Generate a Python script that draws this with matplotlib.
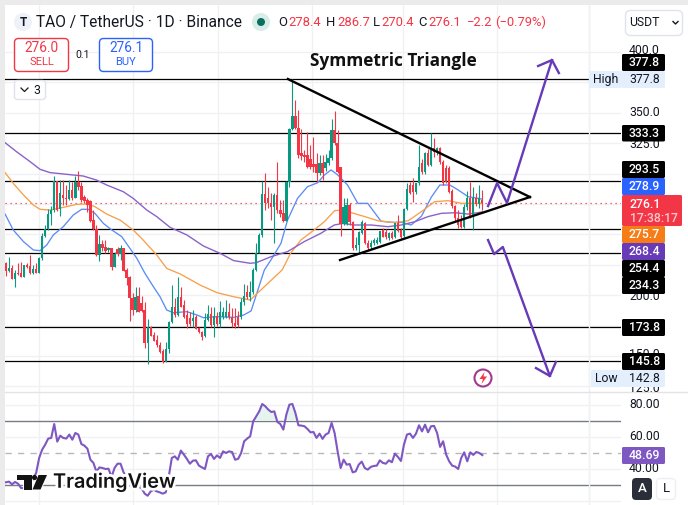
import numpy as np
import matplotlib.pyplot as plt
import matplotlib.patheffects as pe
from matplotlib.patches import FancyBboxPatch, Rectangle, Circle, Polygon

W, H = 688, 505
plt.rcParams['font.family'] = ['Roboto', 'DejaVu Sans']

opens = [226.7,220.1,222.3,213.5,218.2,217.9,215.2,224.5,224,217.9,221.2,218.5,230.3,248.6,254.1,266.7,270,293.9,270.6,282.4,
         280.2,279,286.5,280.2,293.3,289.8,281,278.2,277.7,261.8,254.1,233,242.1,239.3,237.1,238.5,223.4,237.7,233.8,238.5,
         220.7,214.6,197.4,187.8,199.5,193.3,187.8,160.3,173.5,167.2,163.1,159,154.3,145.3,155.4,178.2,190.5,183.7,198.7,191.9,
         183.7,180.9,179,181.7,172.7,169.9,166.7,179.5,184.5,175.4,182.8,176.2,182.3,182.3,186.4,182.3,177,181.7,181.7,194,
         202.8,198.7,202.8,220.7,234.9,249.5,283.2,279.6,275.5,272.2,282.4,270,267.3,261.2,292.8,336.4,347.4,337.2,316.6,315.3,
         315.3,311.7,307.9,307.9,300.2,308.4,304.3,308.4,312.5,335.8,324.9,305.1,258.5,258.5,274.2,260.4,238.5,241.2,250.8,259,
         243.2,239.9,242.6,243.2,244,253.6,252.2,246.7,250.8,248.1,259,253.6,248.9,270.6,290.6,290.6,284.6,292,309,301.6,
         316.6,307,320.8,319.4,320.8,309.8,304.3,304.3,285.7,273.3,263.2,261.8,256.3,272.2,279.6,264.6,279.6,274.7,278.4]
highs = [227.5,231.6,224.8,220.7,226.7,227.5,224.8,226.2,233,224.8,226.2,231,250.8,257.7,270.6,273.3,298,294,294.7,294.7,
         290.6,294.7,293.3,298,302.1,293.3,282.4,279.6,278.2,270,257.7,249.5,245.3,245.3,239.3,239,235.8,239.8,241.2,239,
         222,216,201.5,207,207,199.5,194.6,180.4,174.5,169.9,167.2,161.7,156,161.7,178.5,208.3,197.4,215.2,207,196,
         187.8,186.4,187.8,184,174,170.5,185,191.9,190.5,190.5,186,195.2,190.5,196,193.3,189,189,187,197.4,209,
         208,212,222,242.6,250.8,293.9,300.2,289.2,283.7,283.7,309.8,278.3,278.3,294.2,337.2,377.5,360.5,352.3,336.4,319.4,
         334.5,323.5,330.4,316.6,315.3,315.3,316,319.4,344.6,351.5,335.8,305.7,279.6,280,276,261,248.1,253,262,260.4,
         245,245,247,248,253,255,254,252,253,259,265.9,255,271.4,292.5,293,296.1,292.5,323.5,312,318,
         320,333.1,329,322,322.1,311,307,306,287,274,270,266,275,286,293.3,288.7,284,291,286.7]
lows = [215.7,219.3,213,206.4,216.5,215.2,215,222,217.4,217.4,217.9,217.9,228.9,248.1,253.6,257.7,268.7,269.5,265.1,274.1,
        274.1,278.2,278.2,279.6,286.5,276.9,275.5,268.7,260.4,253.6,232.2,228.4,236.6,235,235.8,220.7,222.9,232,228.9,220.1,
        208.3,179,183.7,186.5,186,186.4,156.2,143.1,166,162,157.6,152.5,143.9,145,152.1,177,182,183,190,180.9,
        173.2,175,174,172.1,168.5,163.1,165.3,179,174,165.8,175,174,180,181,180,174,172.7,174,180,192,
        197,195,201,220,234.4,248.1,270,271.4,261.8,243.2,267.3,264.6,260.4,261,289.2,335.8,336.4,312.5,311.2,309.8,
        304.3,304,301.6,293.3,298.8,294.7,302,307,311.2,323.5,300.2,248.9,257.7,258,258,237,237.1,234.4,250,242,
        237.1,238,241,242,243,247.5,246,245,246,247,252,247,248,270,283,276.9,283,291,300,300,
        306,306,313.9,315,308,291,292,284,272,261,255,255,255,270,263.2,253.6,273,272,270.4]
closes = [220.1,222.3,213.5,217.9,217.7,215.2,224.5,222.9,217.9,221.2,218.5,230.3,248.6,254.1,266.7,270,293.9,270,283.7,279.6,
          279,286.5,279.6,293.3,289.2,278.2,277.7,274.1,261.3,254.1,233,241.8,238.5,236.6,238.5,223.4,233.8,233.8,238.5,220.1,
          213.8,197.4,187.8,198.7,186.4,187.2,160.3,174,166.4,162.5,159,152.9,145.3,155.4,178.2,190.5,183.7,198.7,190.5,182.3,
          176.2,176.2,180.9,172.1,169.9,165.3,179.5,184.5,175.4,182.8,176.2,186.4,186.4,186.4,181.7,176.8,174.6,175.4,194,199.5,
          198.7,202.8,220.7,234.9,249.5,283.2,275.5,275.5,272.2,282.4,270,266.7,261.2,293.3,336.4,347.4,337.2,315.3,314.5,313.9,
          305.7,305.7,305.7,300.2,308.4,300.7,309.8,312.5,335.8,324.9,301.6,258.5,272.8,274.2,260.4,238.5,241.2,252.2,260.4,242.6,
          238.5,242.6,245.4,245.4,253,248.1,248.1,250.8,247.3,259,253,248.1,270.6,287,284.3,284.6,292,305.7,301.6,316.6,
          307,319.4,318,320.8,309.8,292.5,293.3,285.1,273.3,263.2,257.7,256.3,272.2,279.6,264.6,279.6,274.7,279.6,276.1]

blue_idx = [-0.3,2.4,5.8,9.1,11.3,13.5,15.7,19,22.3,25.1,27.3,29.5,32.3,35.1,38.4,41.1,43.4,46.1,48.9,51.1,53.3,55.5,60,63.3,65.5,
            70,75.5,78.9,81.3,85.7,87.9,91.2,93.4,96.7,100,103.4,105.6,107.8,110,113.3,116.7,120,124.4,127.8,131.1,134.4,137.8,141.1,143.9,147.2,150,153.3,156.7,158]
blue_val = [266.7,253.6,244,237.1,236.6,241.2,249.5,256.3,265.9,270.6,270.6,267.3,259,253.6,248.1,238.5,230.3,217.9,206.9,198.7,187.8,185.5,186.4,183.7,181.4,
            182.3,181.7,183.7,187,220.7,229,242.6,261.8,279.6,289.2,292.5,298.8,303,299,290.6,275.5,275.5,260.8,259.9,259.9,257.7,264.9,280.7,290.6,290.6,286.5,281,279.6,278.9]
orange_idx = [-0.3,2.4,5.8,9.1,11.3,14.6,19,23.4,26.8,29.5,33.4,37.8,42.2,45.5,50,53.3,57.8,64.4,70,75.5,81,91.6,94.4,97.8,102.2,105.6,
              109,111.2,114.6,119,123.4,129,133.4,137.8,142.2,146.7,151.1,154.4,158]
orange_val = [300.8,292,282.4,274.1,270.6,270,272.2,274.7,275,272.8,266.7,261.8,253.6,245.3,233,222,217.4,208.3,202,198.7,196,220.7,234.4,245.3,253.6,260.4,269.5,270,267.8,264.6,261.2,259.6,261.2,268.7,276.9,277.7,275.5,275.5,275.7]
purple_idx = [-0.3,3.5,8,11.3,14.6,20.1,25.6,30,33.4,38.9,42.2,46.7,50,54.4,60,65.5,71,75.5,81,83,87.9,93.4,98.9,104.4,108.9,111.7,115.6,121.1,126.7,131.1,135.6,140,144.4,148.9,153.3,158]
purple_val = [325.4,318,309.8,303.5,300.8,299.4,298,294.7,290.6,285.1,279.6,270,264.6,255.8,249.5,240.4,234.4,228.4,226.2,226.7,231.6,235.8,244,250.8,257.7,259,257.7,257.7,256.3,257.7,260.4,264.6,267.3,267.8,266.7,268.4]

rsi = [31.7,32.1,30.4,31.9,30.8,28.1,28,29,30,34,37.5,46.9,52.1,55.2,59,59.4,68.1,57.1,60.8,59.4,
       59,61.5,58.3,62.5,61.5,55.6,54.6,52.7,45.8,43.8,38.3,41,40.6,40,40.2,35,40.6,43.3,43.3,37.9,
       35.4,30.2,28.1,29.2,28.8,28,24.6,23.3,26,27,26,25.4,24.6,25.4,35.4,46.9,47.9,45.8,51.5,49,
       46.3,43.3,45.2,45.4,42.1,41,40,47.9,49.4,46.3,48.5,46.9,51,50,51,50.6,45.8,46.3,50,57.3,
       59,60.4,69.8,72.9,76,80.6,79.2,77.1,75.6,76,69.4,68.1,64.6,74,80.2,80.6,75,67.3,67.1,66.7,
       65,62.9,63.1,59.4,62.1,58.8,61.5,62.5,68.8,62.5,51,40.6,45.8,42.7,43.1,37.9,38.5,42.7,44.6,40.6,
       39.6,41.3,41.9,42.1,45.4,43.8,43.3,45.4,44.2,49.6,47.5,45,55.2,61.5,62.1,59.4,62.1,67.3,63.5,67.7,
       62.9,66.7,66.9,62.5,53.8,57.3,49,44.8,42.1,41.5,40,46.9,50.4,44.8,50.4,48.8,50.6,50,48.69]

levels = [377.8, 333.3, 293.5, 254.4, 234.3, 173.8, 145.8]
price_grid = [400, 375, 350, 325, 300, 275, 250, 225, 200, 175, 150, 125]
rsi_grid = [80, 60, 40, 20]
date_grid = [10.9, 42.1, 70.3, 101.5, 131.7, 162.9, 193.4]
last_price = 276.1

tri_upper_x, tri_upper_y = [93.5, 173.8], [377.8, 280.7]
tri_lower_x, tri_lower_y = [110.8, 173.8], [228.9, 280.7]
up_x = [159.9, 162.9, 166.2, 181.1]
up_y = [273.3, 292.2, 275.8, 393.4]
up_head_x, up_head_y = [176.5, 181.1, 183.4], [388.5, 393.4, 382.7]
down_x = [159.9, 161.9, 164.8, 180.4]
down_y = [245.3, 233.8, 239.6, 133.5]
down_head_x, down_head_y = [175.8, 180.4, 182.4], [140, 133.5, 145]

GREEN, RED = '#089981', '#f23645'
LINE = '#787b86'
GRID = '#f0f1f4'
PURPLE = '#673ab7'


def axes_px(x0, y0, x1, y1):
    return fig.add_axes([x0 / W, 1 - y1 / H, (x1 - x0) / W, (y1 - y0) / H])


fig = plt.figure(figsize=(W / 100, H / 100), dpi=100, facecolor='white')

# price pane
ax = axes_px(5, 5, 621, 392)
ax.set_xlim(-0.33, 204)
ax.set_ylim(120.3, 438.7)
ax.axis('off')
for p in price_grid:
    ax.axhline(p, color=GRID, lw=1, zorder=1)
for d in date_grid:
    ax.axvline(d, color=GRID, lw=1, zorder=1)
for p in levels:
    ax.axhline(p, color='black', lw=0.9, zorder=2)
ax.axhline(last_price, color=RED, lw=0.9, ls=(0, (1, 3)), zorder=2)

ax.plot(blue_idx, blue_val, color='#5b8cf5', lw=0.95, zorder=3)
ax.plot(orange_idx, orange_val, color='#f7a04b', lw=0.95, zorder=3)
ax.plot(purple_idx, purple_val, color='#8b62c8', lw=1.0, zorder=3)

idx = np.arange(len(closes))
o, h, l, c = map(np.array, (opens, highs, lows, closes))
col = np.where(c >= o, GREEN, RED)
ax.vlines(idx, l, h, colors=col, lw=0.8, zorder=4)
ax.bar(idx, np.maximum(np.abs(c - o), 0.8), bottom=np.minimum(o, c), width=0.78, color=col, lw=0, zorder=5)

ax.plot(tri_upper_x, tri_upper_y, color='black', lw=1.7, zorder=6)
ax.plot(tri_lower_x, tri_lower_y, color='black', lw=1.7, zorder=6)
ax.plot(up_x, up_y, color=PURPLE, lw=1.7, zorder=7)
ax.plot(up_head_x, up_head_y, color=PURPLE, lw=1.7, zorder=7)
ax.plot(down_x, down_y, color=PURPLE, lw=1.7, zorder=7)
ax.plot(down_head_x, down_head_y, color=PURPLE, lw=1.7, zorder=7)

# rsi pane
ax2 = axes_px(5, 392, 621, 505)
ax2.set_xlim(-0.33, 204)
ax2.set_ylim(17.5, 88.1)
ax2.axis('off')
for r in rsi_grid:
    ax2.axhline(r, color=GRID, lw=1, zorder=1)
for d in date_grid:
    ax2.axvline(d, color=GRID, lw=1, zorder=1)
ax2.axhline(70, color=LINE, lw=1.0, zorder=2)
ax2.axhline(30, color=LINE, lw=1.0, zorder=2)
ax2.axhline(50, color='#b8b8bc', lw=1, ls=(0, (4.5, 4.5)), zorder=2)
rsi_arr = np.array(rsi)
ax2.fill_between(np.arange(len(rsi)), 70, rsi_arr, where=rsi_arr > 70, color='#e6f4ef', lw=0, interpolate=True, zorder=2)
ax2.plot(np.arange(len(rsi)), rsi, color='#7e57c2', lw=1.5, zorder=3)

# chrome drawn in pixel space
ov = fig.add_axes([0, 0, 1, 1], facecolor='none')
ov.set_xlim(0, W)
ov.set_ylim(H, 0)
ov.set_autoscale_on(False)
ov.axis('off')
ov.add_patch(Rectangle((0, 0), W, 5, color='#ebebeb', lw=0))
ov.add_patch(Rectangle((0, 0), 5, H, color='#ebebeb', lw=0))
ov.plot([5, W], [392, 392], color='#e4e4e6', lw=1)
ov.plot([588.5, 588.5], [5, H], color=GRID, lw=1, zorder=0)


def box(x0, y0, x1, y1, fc, ec='none', r=1.5, lw=1.0, z=3):
    ov.add_patch(FancyBboxPatch((x0 + r, y0 + r), x1 - x0 - 2 * r, y1 - y0 - 2 * r,
                                boxstyle=f'round,pad={r},rounding_size={r}', fc=fc, ec=ec, lw=lw, zorder=z))


def txt(x, y, s, color='#131722', size=8.8, ha='center', weight='normal', z=4, **kw):
    return ov.text(x, y, s, color=color, fontsize=size, ha=ha, va='center', fontweight=weight, zorder=z, **kw)


# header
ov.add_patch(Circle((23, 22), 9, fc='#eef1f8', ec='none'))
txt(23, 22.5, 'T', size=8.5, weight='bold')
txt(36, 22, 'TAO / TetherUS · 1D · Binance', size=11.2, ha='left')
ov.add_patch(Circle((261, 22), 9, fc='#d8ece8', ec='none'))
ov.add_patch(Circle((261, 22), 4, fc='#0b6e5f', ec='none'))
x_head = 278
for s, colr, dx in [('O', '#131722', 10), ('278.4', RED, 38), ('H', '#131722', 11), ('286.7', RED, 36), ('L', '#131722', 8),
                    ('270.4', RED, 37), ('C', '#131722', 10), ('276.1', RED, 39), ('−2.2', RED, 28), ('(−0.79%)', RED, 0)]:
    txt(x_head, 22, s, color=colr, size=9.4, ha='left')
    x_head += dx

box(14.5, 38.5, 68.5, 71.5, 'white', RED, r=4, lw=1)
txt(41.5, 48, '276.0', color=RED, size=9.8)
txt(41.5, 62, 'SELL', color=RED, size=8)
txt(83, 55, '0.1', size=7.6)
box(99.5, 38.5, 152.5, 71.5, 'white', '#2962ff', r=4, lw=1)
txt(126, 48, '276.1', color='#2962ff', size=9.8)
txt(126, 62, 'BUY', color='#2962ff', size=8)
box(14.5, 80.5, 45.5, 99.5, 'white', '#e0e3eb', r=3, lw=1)
ov.plot([21, 24.5, 28], [88, 91.5, 88], color='#131722', lw=0.9, zorder=5)
txt(37, 90, '3', size=8.8)

txt(393, 61, 'Symmetric Triangle', size=12.4, weight='bold', family='Open Sans', color='#111111')

box(625.5, 10.5, 682.5, 35.5, 'white', '#e0e3eb', r=5, lw=1)
txt(629, 23, 'USDT', size=8.8, ha='left')
ov.plot([673, 675.5, 678], [21.5, 24, 21.5], color='#131722', lw=1, zorder=5)

# price scale
for s, y in [('400.0', 51), ('350.0', 113), ('325.0', 144), ('200.0', 296), ('150.0', 355), ('125.0', 388)]:
    txt(644.5, y, s, size=8.8, z=2)
tags = [('377.8', 54, 71, 'black', 'white'), ('333.3', 125, 141.5, 'black', 'white'), ('293.5', 161, 178, 'black', 'white'),
        ('278.9', 178, 195, '#2962ff', 'white'), ('275.7', 226, 243, '#f57c17', 'white'), ('268.4', 243, 260, '#673ab7', 'white'),
        ('254.4', 260, 277, 'black', 'white'), ('234.3', 277, 294, 'black', 'white'), ('173.8', 319, 336, 'black', 'white'),
        ('145.8', 353, 370, 'black', 'white')]
for s, y0, y1, fc, tc in tags:
    box(622, y0, 665, y1, fc)
    txt(644.5, (y0 + y1) / 2, s, color=tc, size=8.8, weight='medium')
box(622, 195, 682, 226, RED)
txt(630, 204, '276.1', color='white', size=8.8, ha='left', weight='medium')
txt(630, 218, '17:38:17', color='#fcc9cf', size=8.8, ha='left', weight='medium')
for s, y0, y1, name, nx in [('377.8', 71, 88, 'High', 589), ('142.8', 370, 387, 'Low', 591)]:
    box(nx, y0, 622, y1, '#e3effd')
    box(622, y0, 665, y1, '#e3effd')
    txt((nx + 622) / 2, (y0 + y1) / 2, name, size=8.8)
    txt(644.5, (y0 + y1) / 2, s, size=8.8)

# rsi scale
for s, y in [('80.00', 404), ('60.00', 436), ('40.00', 468)]:
    txt(644.5, y, s, size=8.8, z=2)
box(622, 447, 665, 464, '#7e57c2')
txt(644.5, 455.5, '48.69', color='white', size=8.8, weight='medium')
box(632, 478, 652, 500, '#2a2e39', r=4)
txt(642, 489, 'A', color='white', size=9.5, weight='medium')
box(656.5, 478.5, 675.5, 499.5, 'white', '#eeeff2', r=4)
txt(666, 489, 'L', size=9.5)

# flash icon
ov.add_patch(Circle((483, 378), 8.5, fc='white', ec='#a13a8e', lw=1.5))
ov.add_patch(Polygon([(484.5, 372), (479.5, 379), (483, 379), (481.5, 384), (487, 376.5), (483.5, 376.5)], fc=RED, ec='none'))

# logo
halo = [pe.withStroke(linewidth=4, foreground='white')]
for shape in ([(17, 475), (32, 475), (32, 489.5), (24, 489.5), (24, 480), (17, 480)],
              [(38.5, 475), (47, 475), (40.5, 489.5), (32.5, 489.5)]):
    ov.add_patch(Polygon(shape, fc='#131313', ec='white', lw=1.5, zorder=5))
    ov.add_patch(Polygon(shape, fc='#131313', ec='none', zorder=6))
ov.add_patch(Circle((34.5, 477.5), 2.6, fc='#131313', ec='none', zorder=6))
t = txt(53, 482.5, 'TradingView', color='#131313', size=14.3, ha='left', weight='semibold', family='Inter', z=6)
t.set_path_effects(halo)

fig.savefig('out.png', dpi=100)
